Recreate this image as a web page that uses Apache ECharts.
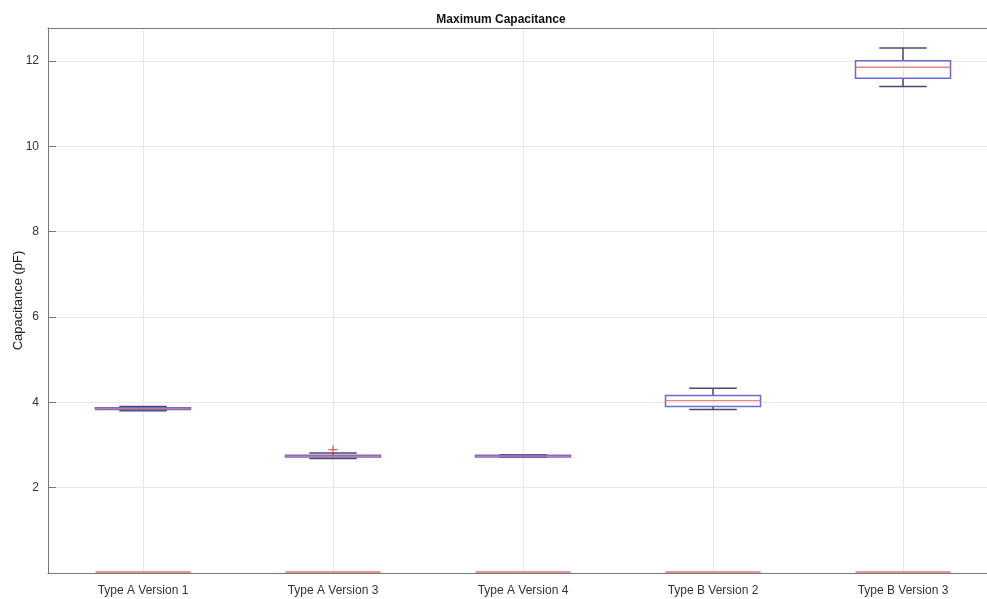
<!DOCTYPE html>
<html><head><meta charset="utf-8">
<script src="https://cdn.jsdelivr.net/npm/echarts@6/dist/echarts.min.js"></script>
<style>html,body{margin:0;padding:0;background:#fff}#c{width:987px;height:599px}</style>
</head><body><div id="c"></div>
<script>
var categories = ['Type A Version 1','Type A Version 3','Type A Version 4','Type B Version 2','Type B Version 3'];
var whiskerLow  = [3.80, 2.68, 2.71, 3.83, 11.40];
var q1          = [3.83, 2.72, 2.72, 3.90, 11.59];
var median      = [3.85, 2.74, 2.74, 4.04, 11.85];
var q3          = [3.87, 2.76, 2.76, 4.16, 12.00];
var whiskerHigh = [3.90, 2.81, 2.77, 4.33, 12.30];
var baseline    = [0, 0, 0, 0, 0];
var outliers    = [[1, 2.89]];
var yTicks      = [2, 4, 6, 8, 10, 12];

var boxData = categories.map(function(c,i){return [i, whiskerLow[i], q1[i], median[i], q3[i], whiskerHigh[i], baseline[i]];});

var chart = echarts.init(document.getElementById('c'));
var font = 'Liberation Sans, Arial, Helvetica, sans-serif';
chart.setOption({
  animation:false,
  title:{text:'Maximum Capacitance', left:496, top:9, textAlign:'center',
    textStyle:{fontFamily:font, fontSize:12, fontWeight:'bold', color:'#111'}},
  grid:{left:48, top:28, width:950, height:545, containLabel:false, outerBoundsMode:'none'},
  xAxis:[{type:'category', data:categories, position:'bottom', boundaryGap:true,
    axisLine:{lineStyle:{color:'#777', width:1}},
    axisTick:{inside:true, alignWithLabel:true, length:8, lineStyle:{color:'#777'}},
    axisLabel:{fontFamily:font, fontSize:12, color:'#333', margin:12},
    splitLine:{show:true, alignWithLabel:true, lineStyle:{color:'#e8e8e8'}}},
   {type:'category', data:categories, position:'top', boundaryGap:true,
    axisLine:{lineStyle:{color:'#777', width:1}},
    axisTick:{inside:true, alignWithLabel:true, length:8, lineStyle:{color:'#777'}},
    axisLabel:{show:false}, splitLine:{show:false}}],
  yAxis:{type:'value', min:0, max:12.77, interval:2,
    name:'Capacitance (pF)', nameLocation:'middle', nameGap:23, nameRotate:90, nameMoveOverlap:false,
    nameTextStyle:{fontFamily:font, fontSize:13, color:'#222'},
    axisLine:{show:true, lineStyle:{color:'#777'}},
    axisTick:{show:true, inside:true, length:8, lineStyle:{color:'#777'}},
    axisLabel:{fontFamily:font, fontSize:12, color:'#333', margin:9,
      showMaxLabel:false,
      formatter:function(v){return (yTicks.indexOf(v)>=0)?String(v):'';}},
    splitLine:{show:true, lineStyle:{color:'#e8e8e8'}}},
  series:[{
    type:'custom', data:boxData,
    encode:{x:0, y:[1,2,3,4,5]},
    renderItem:function(params, api){
      var i = api.value(0);
      var band = api.size([1,0])[0];
      var bw = band*0.5, cw = band*0.25;
      var pLo = api.coord([i, api.value(1)]);
      var pQ1 = api.coord([i, api.value(2)]);
      var pMd = api.coord([i, api.value(3)]);
      var pQ3 = api.coord([i, api.value(4)]);
      var pHi = api.coord([i, api.value(5)]);
      var pB  = api.coord([i, api.value(6)]);
      var x = pMd[0];
      var grey = {stroke:'#4a4a6a', lineWidth:1.5};
      return {type:'group', children:[
        {type:'line', shape:{x1:x, y1:pQ3[1], x2:x, y2:pHi[1]}, style:grey},
        {type:'line', shape:{x1:x, y1:pQ1[1], x2:x, y2:pLo[1]}, style:grey},
        {type:'line', shape:{x1:x-cw/2, y1:pHi[1], x2:x+cw/2, y2:pHi[1]}, style:grey},
        {type:'line', shape:{x1:x-cw/2, y1:pLo[1], x2:x+cw/2, y2:pLo[1]}, style:grey},
        {type:'rect', shape:{x:x-bw/2, y:pQ3[1], width:bw, height:Math.max(pQ1[1]-pQ3[1],0.5)},
          style:{fill:'rgba(0,0,0,0)', stroke:'#6a6ad2', lineWidth:1.5}},
        {type:'line', shape:{x1:x-bw/2, y1:pMd[1], x2:x+bw/2, y2:pMd[1]}, style:{stroke:'#e07070', lineWidth:1.3, opacity:0.85}},
        {type:'line', shape:{x1:x-bw/2, y1:pB[1]-1, x2:x+bw/2, y2:pB[1]-1}, style:{stroke:'#e07070', lineWidth:1.3}}
      ]};
    }
  },{
    type:'scatter', data:outliers, symbol:'path://M0,5L10,5M5,0L5,10', symbolSize:9,
    itemStyle:{color:'rgba(0,0,0,0)', borderColor:'#e03030', borderWidth:1.2}
  }]
});
</script></body></html>
